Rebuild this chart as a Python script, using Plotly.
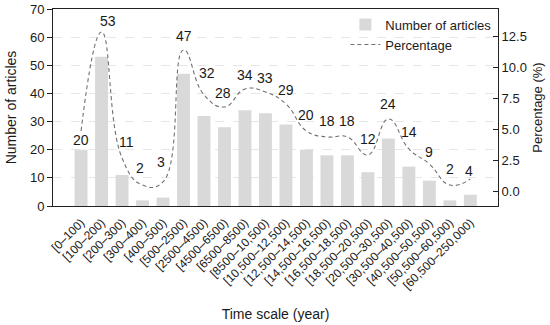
import plotly.graph_objects as go

categories = ["[0–100)", "[100–200)", "[200–300)", "[300–400)", "[400–500)",
              "[500–2500)", "[2500–4500)", "[4500–6500)", "[6500–8500)",
              "[8500–10,500)", "[10,500–12,500)", "[12,500–14,500)",
              "[14,500–16,500)", "[16,500–18,500)", "[18,500–20,500)",
              "[20,500–30,500)", "[30,500–40,500)", "[40,500–50,500)",
              "[50,500–60,500)", "[60,500–250,000)"]
counts = [20, 53, 11, 2, 3, 47, 32, 28, 34, 33, 29, 20, 18, 18, 12, 24, 14, 9, 2, 4]
total = sum(counts)
percentages = [round(c / total * 100, 2) for c in counts]
left_ticks = [0, 10, 20, 30, 40, 50, 60, 70]
right_ticks = [0.0, 2.5, 5.0, 7.5, 10.0, 12.5]

# label placement offsets (pixels)
label_dx = [0, 6, 4, -3, -2, 0, 3, -1, 0, 0, 0, 0, 0, 0, 0, 0, 0, 0, 0, -1]
label_dy = [-9, 11, 16, 17, 20, 14, 22, 14, 14, 14, 14, 16, 16, 16, 16, 15, 17, 12, 16, 8]

FONT = "Liberation Sans, Arial, Helvetica, sans-serif"
TXT = "#1a1a1a"

fig = go.Figure()
fig.add_trace(go.Bar(
    x=categories, y=counts, name="Number of articles",
    marker=dict(color="#d9d9d9", line=dict(width=0)),
    width=0.63, yaxis="y",
))
fig.add_trace(go.Scatter(
    x=categories, y=percentages, name="Percentage", mode="lines",
    line=dict(color="#707070", width=1.1, dash="4px,3px", shape="spline", smoothing=1.3),
    yaxis="y2",
))

annotations = []
for i, c in enumerate(categories):
    annotations.append(dict(
        x=c, y=percentages[i], xref="x", yref="y2", text=str(counts[i]),
        showarrow=False, xshift=label_dx[i], yshift=label_dy[i],
        font=dict(family=FONT, size=14, color=TXT),
    ))

fig.update_layout(
    width=550, height=325,
    margin=dict(l=53, r=52, t=9, b=119, autoexpand=False),
    paper_bgcolor="white", plot_bgcolor="white",
    font=dict(family=FONT, size=12, color=TXT),
    showlegend=True,
    legend=dict(x=0.657, y=0.997, xanchor="left", yanchor="top",
                bgcolor="rgba(0,0,0,0)", font=dict(size=13, color=TXT),
                tracegroupgap=0, itemwidth=30),
    bargap=0.37,
    annotations=annotations,
    xaxis=dict(
        type="category", categoryorder="array", categoryarray=categories,
        range=[-1.37, 20.35], tickangle=-45, tickfont=dict(size=12),
        showline=True, linecolor="#222", linewidth=1, mirror=True,
        ticks="outside", ticklen=4, tickcolor="rgba(0,0,0,0)",
        showgrid=False, automargin=False,
        title=dict(text="Time scale (year)", font=dict(size=14), standoff=17),
    ),
    yaxis=dict(
        range=[0, 70], tickvals=left_ticks, tickfont=dict(size=13),
        showline=True, linecolor="#222", linewidth=1,
        ticks="outside", ticklen=5, tickcolor="#222",
        showgrid=True, gridcolor="#e6e6e6", griddash="dash", gridwidth=1,
        zeroline=False, automargin=False,
        title=dict(text="Number of articles", font=dict(size=14), standoff=10),
    ),
    yaxis2=dict(
        overlaying="y", side="right",
        range=[-1.21, 14.68], tickvals=right_ticks,
        ticktext=[f"{v:.1f}" for v in right_ticks], tickfont=dict(size=13),
        showline=True, linecolor="#222", linewidth=1,
        ticks="inside", ticklen=5, tickcolor="#222",
        showgrid=False, zeroline=False, automargin=False,
        title=dict(text="Percentage (%)", font=dict(size=13), standoff=6),
    ),
)

fig.write_html("out.html", config={"displayModeBar": False},
               post_script="document.body.style.margin='0';document.body.style.overflow='hidden';")
